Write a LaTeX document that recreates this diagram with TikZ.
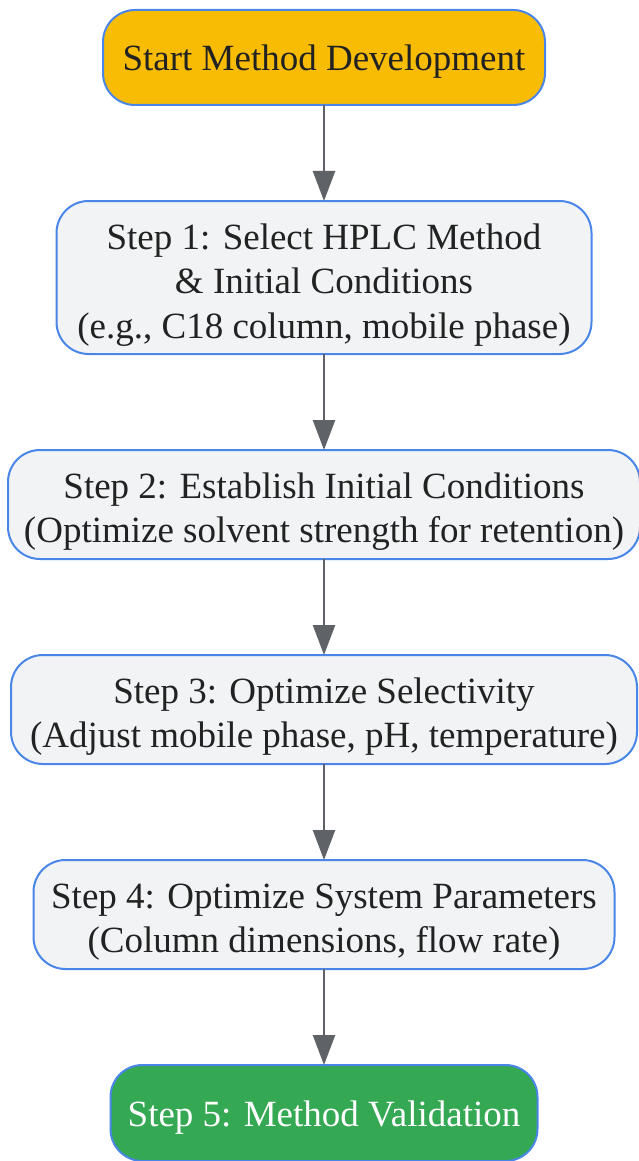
\documentclass[tikz,border=0pt]{standalone}
\usepackage{fontspec}
\setmainfont{Liberation Serif}
\usetikzlibrary{positioning,arrows.meta}
\definecolor{startfill}{HTML}{F9BC05}
\definecolor{stepfill}{HTML}{F1F3F4}
\definecolor{endfill}{HTML}{34A853}
\definecolor{boxline}{HTML}{4A86E8}
\definecolor{arrowgray}{HTML}{5F6368}
\definecolor{textdark}{HTML}{222222}
\newcommand{\topgap}{\rule{0pt}{40pt}}
\begin{document}
\begin{tikzpicture}[x=1pt,y=-1pt,node distance=96pt,
  box/.style={draw=boxline,line width=2pt,rounded corners=32pt,align=center,
    text=textdark,inner sep=0pt,outer sep=0pt,font=\fontsize{37}{44.5}\selectfont},
  stepbox/.style={box,fill=stepfill},
  onebox/.style={box,text height=35pt,text depth=8.5pt},
  flow/.style={draw=arrowgray,line width=2.5pt,-{Triangle[length=30pt,width=22pt]}}]
 \useasboundingbox (0,0) rectangle (639,1161);
 \node[onebox,fill=startfill,minimum width=442pt,minimum height=95pt] (start) at (324,57.5) {Start Method Development};
 \node[stepbox,minimum width=535pt,minimum height=153pt,below=of start] (s1) {\topgap Step 1: Select HPLC Method\\ \& Initial Conditions\\(e.g., C18 column, mobile phase)};
 \node[stepbox,minimum width=632pt,minimum height=109pt,below=of s1] (s2) {\topgap Step 2: Establish Initial Conditions\\(Optimize solvent strength for retention)};
 \node[stepbox,minimum width=626pt,minimum height=109pt,below=of s2] (s3) {\topgap Step 3: Optimize Selectivity\\(Adjust mobile phase, pH, temperature)};
 \node[stepbox,minimum width=581pt,minimum height=109pt,below=of s3] (s4) {\topgap Step 4: Optimize System Parameters\\(Column dimensions, flow rate)};
 \node[onebox,fill=endfill,text=white,minimum width=427pt,minimum height=96pt,below=of s4] (s5) {Step 5: Method Validation};
    \draw [flow] (start) -- (s1);
    \draw [flow] (s1) -- (s2);
    \draw [flow] (s2) -- (s3);
    \draw [flow] (s3) -- (s4);
    \draw [flow] (s4) -- (s5);
\end{tikzpicture}
\end{document}
